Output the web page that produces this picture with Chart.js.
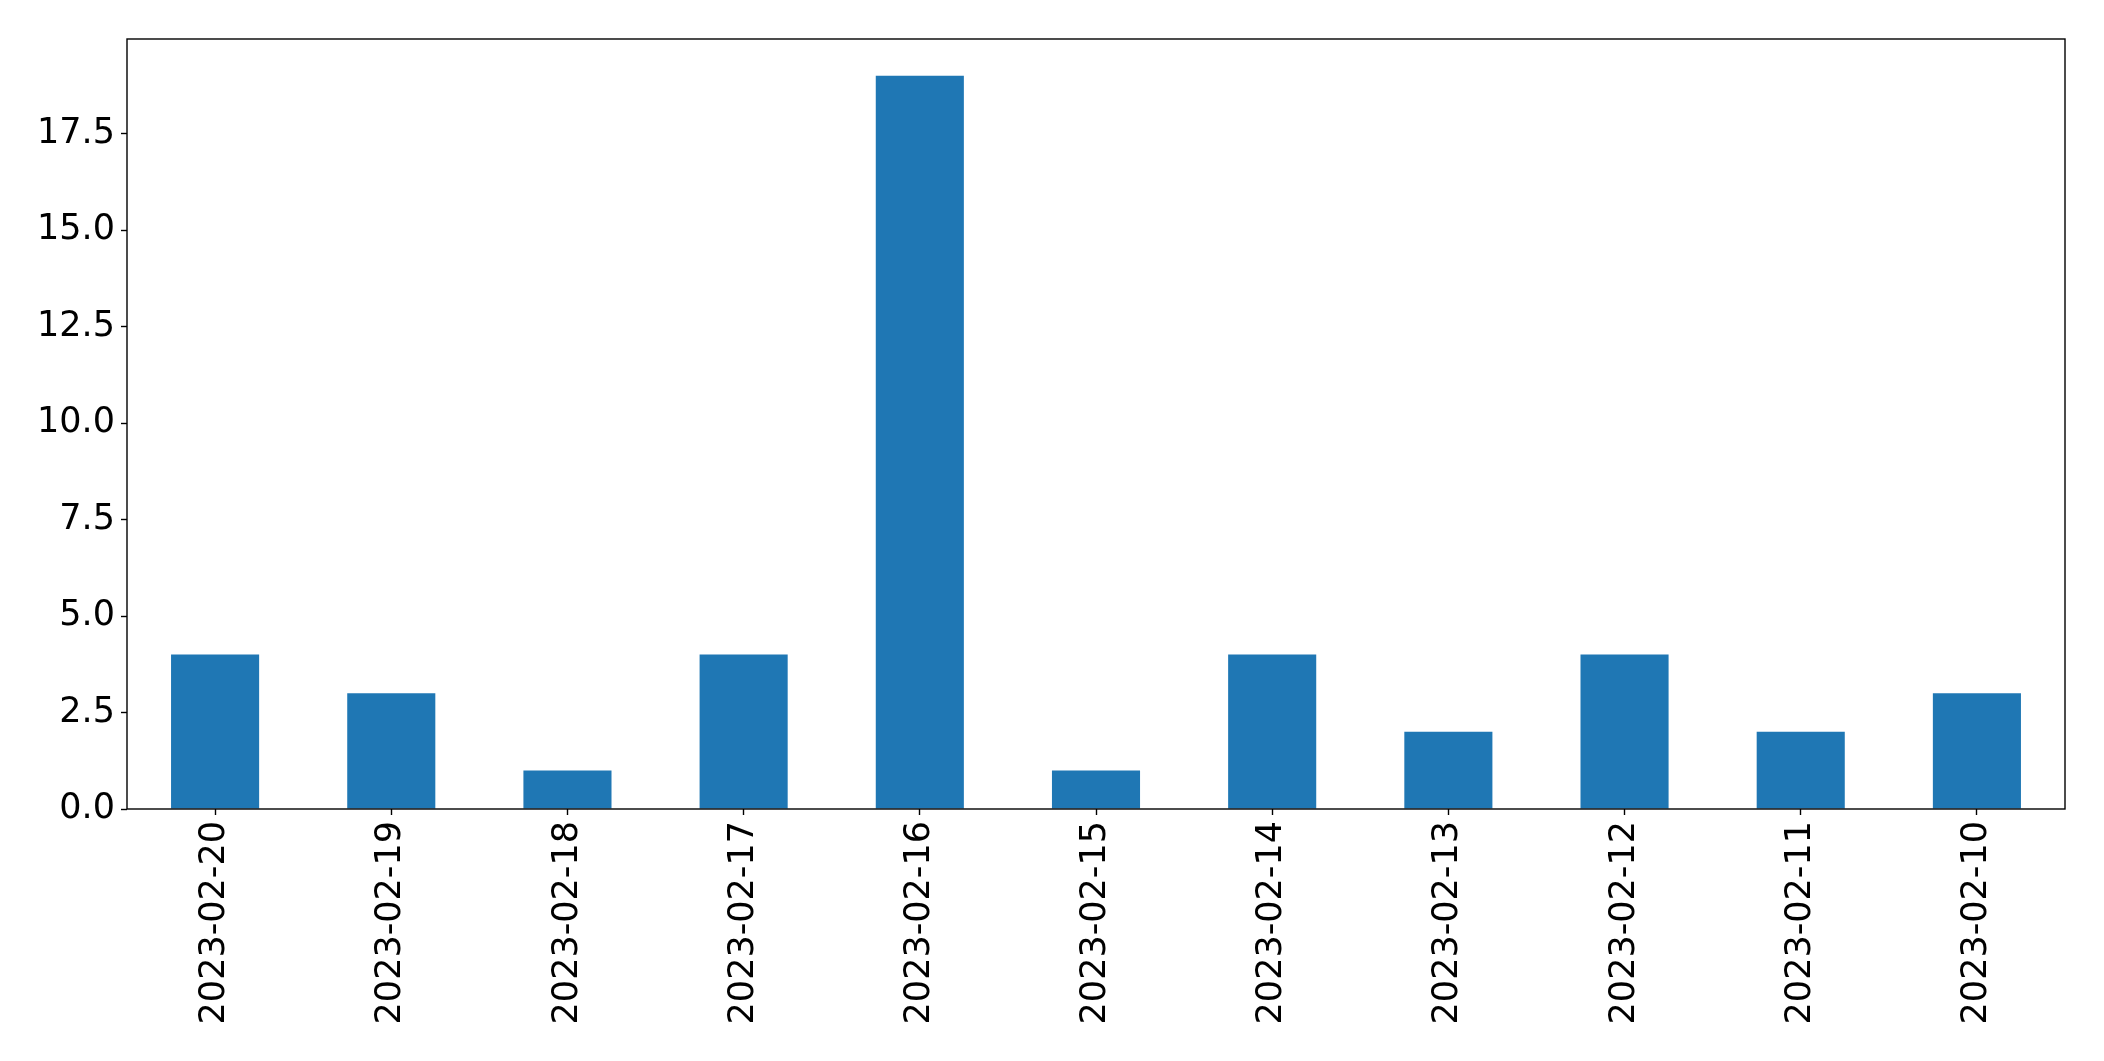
<!DOCTYPE html>
<html>
<head>
<meta charset="utf-8">
<script src="https://cdn.jsdelivr.net/npm/chart.js@4/dist/chart.umd.min.js"></script>
<style>
  html, body { margin: 0; padding: 0; background: #fff; }
  #wrap { width: 2104px; height: 1061px; }
</style>
</head>
<body>
<div id="wrap"><canvas id="c" width="2104" height="1061"></canvas></div>
<script>
const categories = ["2023-02-20","2023-02-19","2023-02-18","2023-02-17","2023-02-16","2023-02-15","2023-02-14","2023-02-13","2023-02-12","2023-02-11","2023-02-10"];
const counts = [4, 3, 1, 4, 19, 1, 4, 2, 4, 2, 3];
const yTicks = [0, 2.5, 5, 7.5, 10, 12.5, 15, 17.5];
const yMax = 19.95;

const frame = {
  id: 'frame',
  afterDatasetsDraw(chart) {
    const a = chart.chartArea, ctx = chart.ctx;
    ctx.save();
    ctx.strokeStyle = '#000';
    ctx.lineWidth = 1.4;
    ctx.strokeRect(a.left, a.top, a.right - a.left, a.bottom - a.top);
    ctx.restore();
  }
};

new Chart(document.getElementById('c'), {
  type: 'bar',
  data: {
    labels: categories,
    datasets: [{ data: counts, backgroundColor: '#1f77b4', borderWidth: 0,
                 categoryPercentage: 1.0, barPercentage: 0.5 }]
  },
  options: {
    responsive: false,
    animation: false,
    layout: { padding: { left: 0, right: 39, top: 39, bottom: 0 } },
    plugins: { legend: { display: false }, tooltip: { enabled: false } },
    scales: {
      x: {
        offset: true,
        grid: { display: true, drawOnChartArea: false, offset: false, color: '#000', tickLength: 6, tickWidth: 1.4 },
        border: { display: false },
        ticks: { color: '#000', font: { family: 'DejaVu Sans', size: 35 }, minRotation: 90, maxRotation: 90, padding: 6, autoSkip: false },
        afterFit(s) { s.height = 252; }
      },
      y: {
        min: 0, max: yMax,
        grid: { display: true, drawOnChartArea: false, color: '#000', tickLength: 6, tickWidth: 1.4 },
        border: { display: false },
        afterBuildTicks(s) { s.ticks = yTicks.map(v => ({ value: v })); },
        ticks: { color: '#000', font: { family: 'DejaVu Sans', size: 35 }, padding: 6,
                 callback: v => Number(v).toFixed(1) },
        afterFit(s) { s.width = 127; }
      }
    }
  },
  plugins: [frame]
});
</script>
</body>
</html>
